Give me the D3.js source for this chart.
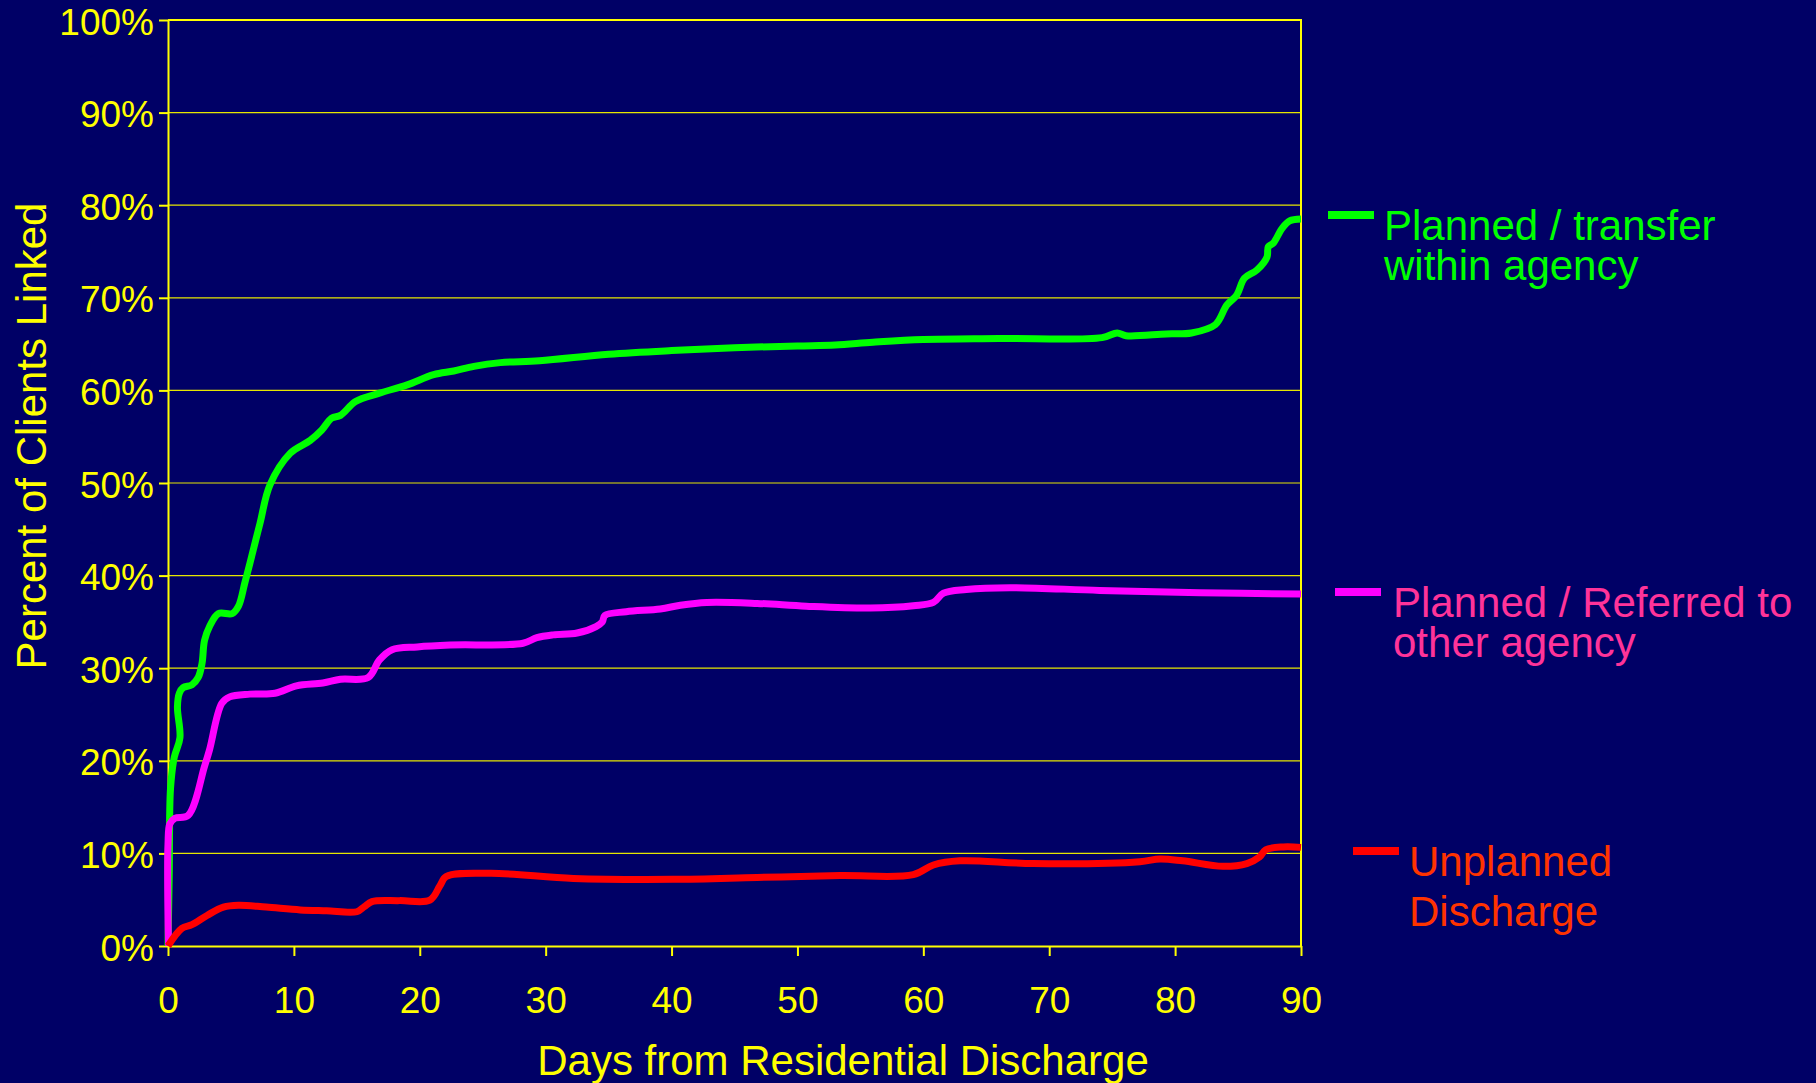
<!DOCTYPE html>
<html>
<head>
<meta charset="utf-8">
<script src="https://cdn.jsdelivr.net/npm/d3@7"></script>
<style>
    body { margin: 0; background: #000066; }
    text { font-family: "Liberation Sans", Arial, sans-serif; }
</style>
</head>
<body>
<div id="chart"></div>
<script>
// days since discharge and cumulative percent linked
const plannedTransferDays = [0, 0.1, 0.2, 0.5, 0.95, 0.75, 0.9, 1.2, 1.9, 2.4, 2.7, 2.9, 3.3, 4.0, 5.1, 5.6, 6.1, 6.5, 7.3, 8.1, 9.7, 11.3, 12.2, 13.0, 13.7, 14.9, 16.8, 19.0, 21.1, 22.7, 24.3, 26.4, 29.5, 35, 40, 45, 50, 53, 56, 60, 66, 74.2, 75.4, 76.1, 79.3, 81.3, 83.2, 84.1, 84.9, 85.5, 86.5, 87.3, 87.4, 87.8, 88.5, 89.1, 90];
const plannedTransferPct = [0, 8, 17, 20.4, 22.5, 25.8, 27.3, 27.9, 28.2, 29.0, 30.5, 33.0, 34.5, 35.9, 35.9, 36.7, 39.2, 41.3, 45.6, 49.8, 53.2, 54.6, 55.7, 57.0, 57.3, 58.8, 59.7, 60.6, 61.7, 62.1, 62.6, 63.0, 63.2, 63.9, 64.3, 64.6, 64.8, 64.9, 65.2, 65.5, 65.6, 65.7, 66.2, 65.9, 66.1, 66.2, 67.1, 69.2, 70.3, 72.1, 73.0, 74.4, 75.5, 75.9, 77.5, 78.3, 78.5];

const plannedReferredDays = [0.05, 0, 0, 0.15, 0.55, 1.6, 2.9, 3.3, 4.27, 4.9, 6.5, 8.5, 10.2, 12.3, 13.7, 15.9, 16.8, 17.8, 19.8, 22.4, 28.2, 29.3, 30.6, 32.5, 34.0, 34.5, 34.7, 36.4, 39.1, 40.7, 42.8, 46.8, 50.7, 55.8, 59.2, 60.8, 61.6, 63.4, 66.9, 74.0, 82.0, 90];
const plannedReferredPct = [0, 3, 11, 13.2, 13.8, 14.1, 19.4, 21.2, 26.2, 26.9, 27.2, 27.3, 28.1, 28.4, 28.8, 29.0, 30.9, 32.0, 32.3, 32.5, 32.7, 33.3, 33.6, 33.8, 34.5, 35.0, 35.7, 36.1, 36.4, 36.8, 37.1, 37.0, 36.7, 36.5, 36.75, 37.1, 38.1, 38.5, 38.7, 38.4, 38.15, 38.0];

const unplannedDays = [0, 1.1, 1.9, 3.1, 4.4, 5.6, 7.8, 10.5, 12.6, 15.0, 15.6, 16.2, 18.4, 20.8, 21.6, 22.1, 25.6, 32.2, 40.1, 46.8, 53.4, 59.2, 60.8, 62.9, 68.7, 77.2, 78.8, 80.6, 83.8, 85.7, 86.7, 87.2, 88.6, 90];
const unplannedPct = [0, 1.9, 2.3, 3.3, 4.2, 4.4, 4.2, 3.9, 3.8, 3.7, 4.25, 4.8, 4.9, 4.95, 6.5, 7.5, 7.85, 7.3, 7.2, 7.4, 7.6, 7.7, 8.75, 9.2, 8.9, 9.1, 9.4, 9.2, 8.6, 8.9, 9.6, 10.4, 10.7, 10.65];

const seriesNames = [["Planned / transfer", "within agency"], ["Planned / Referred to", "other agency"], ["Unplanned", "Discharge"]];
const lineColors = ["#00ff00", "#ff00ff", "#ff0000"];
const labelColors = ["#00ff00", "#ff3399", "#ff3300"];

const xTicks = [0, 10, 20, 30, 40, 50, 60, 70, 80, 90];
const yTicks = [0, 10, 20, 30, 40, 50, 60, 70, 80, 90, 100];

const series = [
    plannedTransferDays.map((d, i) => ({ day: d, pct: plannedTransferPct[i] })),
    plannedReferredDays.map((d, i) => ({ day: d, pct: plannedReferredPct[i] })),
    unplannedDays.map((d, i) => ({ day: d, pct: unplannedPct[i] }))
];

// chart dimensions and margins
const width = 1816;
const height = 1083;
const marginTop = 20;
const marginRight = 515;
const marginBottom = 137;
const marginLeft = 168;

const x = d3.scaleLinear()
    .domain([0, 90])
    .range([marginLeft, width - marginRight]);

const y = d3.scaleLinear()
    .domain([0, 100])
    .range([height - marginBottom, marginTop]);

const svg = d3.select("#chart")
    .append("svg")
    .attr("width", width)
    .attr("height", height)
    .attr("viewBox", [0, 0, width, height]);

svg.append("rect")
    .attr("width", width)
    .attr("height", height)
    .attr("fill", "#000066");

// horizontal grid lines
svg.append("g")
    .attr("stroke", "#e6e600")
    .attr("stroke-width", 1.2)
    .selectAll()
    .data(yTicks.slice(1, -1))
    .join("line")
    .attr("x1", x(0))
    .attr("x2", x(90))
    .attr("y1", d => y(d))
    .attr("y2", d => y(d));

// top and right border
svg.append("path")
    .attr("fill", "none")
    .attr("stroke", "#ffff00")
    .attr("stroke-width", 2)
    .attr("d", `M${x(0)},${y(100)}H${x(90)}V${y(0)}`);

// x axis
svg.append("g")
    .attr("transform", `translate(0,${y(0)})`)
    .call(d3.axisBottom(x).tickValues(xTicks).tickSize(10).tickPadding(31).tickSizeOuter(0))
    .call(g => g.selectAll("line, path").attr("stroke", "#ffff00").attr("stroke-width", 2))
    .call(g => g.selectAll("text")
        .attr("fill", "#ffff00")
        .style("font-size", "37px")
        .style("font-family", "'Liberation Sans', Arial, sans-serif"));

// y axis
svg.append("g")
    .attr("transform", `translate(${marginLeft},0)`)
    .call(d3.axisLeft(y).tickValues(yTicks).tickSize(9).tickPadding(5).tickSizeOuter(0).tickFormat(d => d + "%"))
    .call(g => g.selectAll("line, path").attr("stroke", "#ffff00").attr("stroke-width", 2))
    .call(g => g.selectAll("text")
        .attr("fill", "#ffff00")
        .attr("dy", "0.38em")
        .style("font-size", "37px")
        .style("font-family", "'Liberation Sans', Arial, sans-serif"));

// axis titles
svg.append("text")
    .attr("x", 843)
    .attr("y", 1075)
    .attr("text-anchor", "middle")
    .attr("fill", "#ffff00")
    .style("font-size", "42px")
    .text("Days from Residential Discharge");

svg.append("text")
    .attr("transform", "translate(46,436) rotate(-90)")
    .attr("text-anchor", "middle")
    .attr("fill", "#ffff00")
    .style("font-size", "42px")
    .text("Percent of Clients Linked");

// the three lines
const line = d3.line()
    .x(d => x(d.day))
    .y(d => y(d.pct))
    .curve(d3.curveCatmullRom.alpha(0.5));

svg.append("g")
    .attr("fill", "none")
    .attr("stroke-width", 7)
    .attr("stroke-linejoin", "round")
    .selectAll()
    .data(series)
    .join("path")
    .attr("stroke", (d, i) => lineColors[i])
    .attr("d", line);

// legend, each entry beside the end of its line
const legendPos = [
    { x: 1328, y: 215, tx: 1384, lh: 40 },
    { x: 1335, y: 592, tx: 1393, lh: 40 },
    { x: 1353, y: 851, tx: 1409, lh: 50 }
];

const legend = svg.append("g")
    .selectAll()
    .data(seriesNames)
    .join("g");

legend.append("line")
    .attr("x1", (d, i) => legendPos[i].x)
    .attr("x2", (d, i) => legendPos[i].x + 46)
    .attr("y1", (d, i) => legendPos[i].y)
    .attr("y2", (d, i) => legendPos[i].y)
    .attr("stroke", (d, i) => lineColors[i])
    .attr("stroke-width", 8);

legend.append("text")
    .attr("fill", (d, i) => labelColors[i])
    .style("font-size", "42px")
    .each(function (d, i) {
        const p = legendPos[i];
        d3.select(this).selectAll("tspan")
            .data(d)
            .join("tspan")
            .attr("x", p.tx)
            .attr("y", (t, j) => p.y + 25 + j * p.lh)
            .text(t => t);
    });
</script>
</body>
</html>
